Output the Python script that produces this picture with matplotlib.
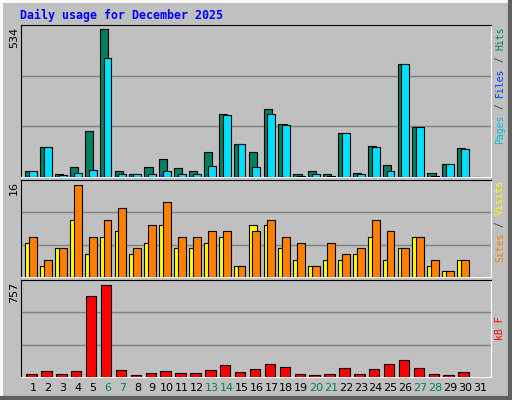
import matplotlib
matplotlib.use("Agg")
import matplotlib.pyplot as plt
import numpy as np

days = list(range(1, 32))
hits  = [20,107,10,35,165,534,20,12,35,64,31,20,89,227,118,89,245,191,10,20,10,158,13,111,42,408,179,13,46,104,0]
files = [20,107,8,16,27,429,12,12,12,23,12,12,38,222,118,35,227,186,5,10,5,158,10,107,20,408,179,5,46,100,0]
pages = [4,3,3,6,5,6,5,4,5,6,4,4,6,3,3,4,5,4,1,2,1,3,3,3,4,3,4,1,2,3,0]
visits = [6,2,5,10,4,7,8,4,6,9,5,5,6,7,2,9,9,5,3,2,3,3,4,7,3,5,7,2,1,3,0]
sites  = [7,3,5,16,7,10,12,5,9,13,7,7,8,8,2,8,10,7,6,2,6,4,5,10,8,5,7,3,1,3,0]
kbytes = [28,52,28,52,663,757,61,19,36,52,36,36,61,102,44,69,110,85,28,19,28,77,28,69,110,143,77,28,19,44,0]
weekends = [6,7,13,14,20,21,27,28]
title = "Daily usage for December 2025"

BG = "#c0c0c0"
fig = plt.figure(figsize=(5.12, 4.0), dpi=100, facecolor=BG)
W, H = 512, 400

# bevelled border
fig.add_artist(plt.Line2D([1/W, 1/W], [0, 1], color="white", lw=2))
fig.add_artist(plt.Line2D([0, 1], [1-1/H, 1-1/H], color="white", lw=2))
fig.add_artist(plt.Line2D([1-2/W, 1-2/W], [0, 1], color="#606060", lw=3))
fig.add_artist(plt.Line2D([0, 1], [2/H, 2/H], color="#606060", lw=3))

def mkax(top, bottom):
    ax = fig.add_axes([21/W, 1-bottom/H, 470/W, (bottom-top)/H])
    ax.set_facecolor(BG)
    ax.set_xlim(0.19, 31.74)
    for s in ("left", "top"):
        ax.spines[s].set_color("black")
    for s in ("right", "bottom"):
        ax.spines[s].set_color("white")
    ax.set_xticks([]); ax.set_yticks([])
    return ax

d = np.array(days, dtype=float)
kw = dict(edgecolor="black", linewidth=0.8, align="edge", zorder=3)

ax1 = mkax(25, 177)
top1 = max(hits) * 152 / 148
ax1.set_ylim(0, top1)
for g in (top1/3, 2*top1/3):
    ax1.axhline(g, color="#808080", lw=1, zorder=1)
ax1.bar(d-0.53, hits, width=0.55, color="#008060", **kw)
ax1.bar(d-0.27, files, width=0.53, color="#00e0ff", **kw)
ax1.bar(d-0.45, pages, width=0.15, color="#0040ff", edgecolor="none", align="edge", zorder=4)

ax2 = mkax(180, 277)
top2 = max(sites) * 97 / 92
ax2.set_ylim(0, top2)
for g in (top2/3, 2*top2/3):
    ax2.axhline(g, color="#808080", lw=1, zorder=1)
ax2.bar(d-0.53, visits, width=0.55, color="#ffff00", **kw)
ax2.bar(d-0.27, sites, width=0.53, color="#ff8000", **kw)

ax3 = mkax(280, 377)
top3 = max(kbytes) * 97 / 92
ax3.set_ylim(0, top3)
for g in (top3/3, 2*top3/3):
    ax3.axhline(g, color="#808080", lw=1, zorder=1)
ax3.bar(d-0.45, kbytes, width=0.7, color="#ff0000", **kw)

# x labels
ax3.set_xticks(days)
ax3.set_xticklabels([str(x) for x in days], fontsize=8)
ax3.tick_params(axis="x", length=0, pad=4)
for lbl, dd in zip(ax3.get_xticklabels(), days):
    lbl.set_color("#008060" if dd in weekends else "black")

mono = "DejaVu Sans Mono"
fig.text(20/W, 1-15/H, title, fontsize=8.4, color="#0000ff", fontweight="bold",
         family=mono, va="center", ha="left")

def ylab(txt, ytop):
    fig.text(14/W, 1-ytop/H, txt, rotation=90, fontsize=8, va="top", ha="center")
ylab(str(max(hits)), 27)
ylab(str(max(sites)), 181)
ylab(str(max(kbytes)), 282)

def rlab(parts, ytop, fs=7):
    adv = 0.602 * fs * 100 / 72
    y = ytop
    for txt, col in reversed(parts):
        fig.text(500/W, 1-y/H, txt, rotation=90, fontsize=fs, family=mono,
                 color=col, va="top", ha="center")
        y += adv * len(txt)

rlab([("Pages", "#00c0e0"), (" / ", "#404040"), ("Files", "#0040ff"),
      (" / ", "#404040"), ("Hits", "#008060")], 27)
rlab([("Sites", "#ff8000"), (" / ", "#404040"), ("Visits", "#ffff00")], 180)
rlab([("kB F", "#ff0000")], 316)

fig.savefig("out.png", dpi=100, facecolor=BG)
